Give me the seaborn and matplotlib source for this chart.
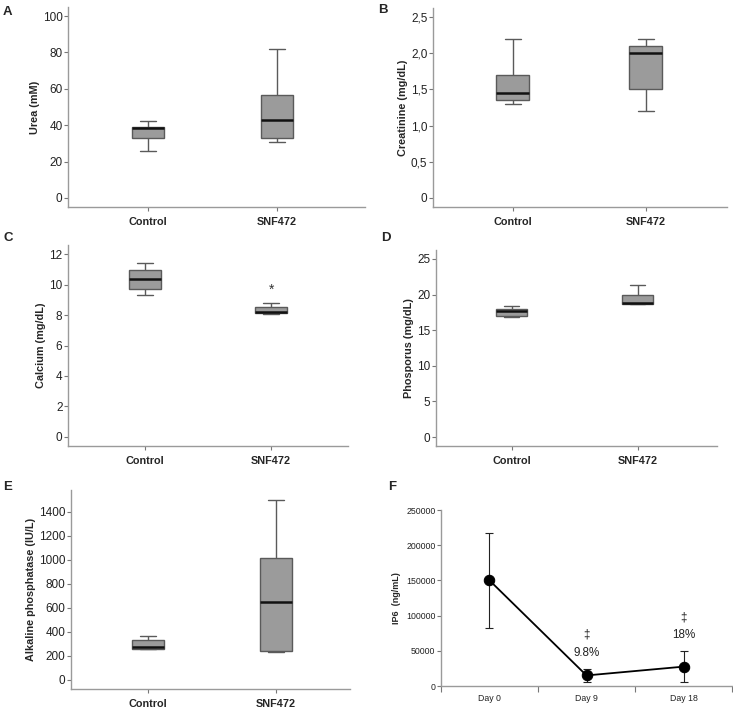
import numpy as np
import pandas as pd
import matplotlib
matplotlib.use("Agg")
import matplotlib.pyplot as plt
from matplotlib import font_manager
import seaborn as sns

# ---------------- data (five-number summaries) -------------
groups = ["Control", "SNF472"]

urea_control = [25.9, 33.2, 38.3, 38.9, 42.4]
urea_snf = [31.0, 32.9, 42.6, 56.7, 81.7]

creat_control = [1.30, 1.35, 1.45, 1.70, 2.20]
creat_snf = [1.20, 1.50, 2.00, 2.10, 2.20]

calc_control = [9.30, 9.70, 10.36, 10.95, 11.41]
calc_snf = [8.10, 8.15, 8.20, 8.50, 8.82]

phos_control = [16.9, 17.0, 17.7, 18.0, 18.4]
phos_snf = [18.7, 18.7, 18.75, 20.0, 21.3]

alp_control = [255, 258, 278, 333, 368]
alp_snf = [230, 241, 649, 1017, 1494]

days = ["Day 0", "Day 9", "Day 18"]
ip6_mean = [150000, 15000, 27500]
ip6_err = [68000, 9500, 22000]
ip6_pct = ["", "9.8%", "18%"]
ip6_sig = ["", "\u2021", "\u2021"]

# ---------------- style -------------
sns.set_theme(style="white")
avail = {f.name for f in font_manager.fontManager.ttflist}
narrow = "Liberation Sans Narrow" if "Liberation Sans Narrow" in avail else "Liberation Sans"
plt.rcParams["font.family"] = ["Liberation Sans", "DejaVu Sans"]

W, H = 733, 708
fig = plt.figure(figsize=(W / 100, H / 100), dpi=100)


def rect(l, t, r, b):
    return [l / W, 1 - b / H, (r - l) / W, (b - t) / H]


spine_col = "#9a9a9a"


def box_panel(r, ctrl, snf, ylabel, yticks, ticklabels, ylim, xlim):
    ax = fig.add_axes(rect(*r))
    df = pd.DataFrame({
        "group": [groups[0]] * len(ctrl) + [groups[1]] * len(snf),
        "value": list(ctrl) + list(snf),
    })
    sns.boxplot(data=df, x="group", y="value", ax=ax, order=groups,
                color="#9b9b9b", saturation=1, width=0.25, whis=(0, 100),
                linecolor="#5a5a5a", linewidth=1.0,
                medianprops={"color": "#111111", "linewidth": 1.8},
                showfliers=False)
    ax.set_ylim(*ylim)
    ax.set_xlim(*xlim)
    ax.set_yticks(yticks)
    ax.set_yticklabels(ticklabels, fontfamily=narrow, fontsize=8.5, color="#222222")
    ax.set_xlabel("")
    ax.set_ylabel(ylabel, fontsize=7.8, fontweight="bold", labelpad=2)
    for lab in ax.get_xticklabels():
        lab.set_fontweight("bold")
        lab.set_fontsize(7.8)
    for s in ["top", "right"]:
        ax.spines[s].set_visible(False)
    for s in ["left", "bottom"]:
        ax.spines[s].set_color(spine_col)
        ax.spines[s].set_linewidth(1.0)
    ax.tick_params(axis="y", length=3, width=0.8, color="#777777", left=True, pad=1)
    ax.tick_params(axis="x", length=3, width=0.8, color="#777777", bottom=True, pad=4)
    return ax


def yl(lo, hi):
    span = hi - lo
    return (lo - 0.05 * span, hi + 0.05 * span)


axA = box_panel((68, 7, 365, 207), urea_control, urea_snf, "Urea (mM)",
                [0, 20, 40, 60, 80, 100], ["0", "20", "40", "60", "80", "100"],
                yl(0, 100), (-0.62, 1.68))
axB = box_panel((433, 8, 727, 207), creat_control, creat_snf, "Creatinine (mg/dL)",
                [0, 0.5, 1.0, 1.5, 2.0, 2.5], ["0", "0,5", "1,0", "1,5", "2,0", "2,5"],
                yl(0, 2.5), (-0.60, 1.61))
axC = box_panel((68, 245, 348, 446), calc_control, calc_snf, "Calcium (mg/dL)",
                [0, 2, 4, 6, 8, 10, 12], ["0", "2", "4", "6", "8", "10", "12"],
                yl(0, 12), (-0.61, 1.61))
axC.text(1, 9.65, "*", ha="center", va="center", fontsize=10, color="#333333")
axD = box_panel((436, 250, 717, 446), phos_control, phos_snf, "Phosporus (mg/dL)",
                [0, 5, 10, 15, 20, 25], ["0", "5", "10", "15", "20", "25"],
                yl(0, 25), (-0.60, 1.63))
axE = box_panel((71, 490, 350, 689), alp_control, alp_snf, "Alkaline phosphatase (IU/L)",
                [0, 200, 400, 600, 800, 1000, 1200, 1400],
                ["0", "200", "400", "600", "800", "1000", "1200", "1400"],
                (-75, 1580), (-0.60, 1.58))

# ---------------- panel F -------------
axF = fig.add_axes(rect(441, 510, 732, 686))
xpos = np.arange(len(days)) + 0.5
fdf = pd.DataFrame({"x": xpos, "y": ip6_mean})
axF.errorbar(xpos, ip6_mean, yerr=ip6_err, fmt="none", ecolor="#222222",
             elinewidth=0.8, capsize=3, capthick=0.8, zorder=2)
sns.lineplot(data=fdf, x="x", y="y", ax=axF, color="black", linewidth=1.3,
             marker="o", markersize=7.5, markeredgecolor="black", zorder=3)
axF.set_xlim(0, 3)
axF.set_ylim(0, 250000)
axF.set_yticks(np.arange(0, 250001, 50000))
axF.set_yticklabels([str(v) for v in range(0, 250001, 50000)], fontsize=6.3, color="#222222")
axF.set_xticks([0, 1, 2, 3])
axF.set_xticklabels([])
axF.set_xticks(xpos, minor=True)
axF.set_xticklabels(days, minor=True, fontsize=6.3, color="#222222")
axF.tick_params(axis="x", which="major", length=4, width=0.8, color="#777777", direction="out", bottom=True)
axF.tick_params(axis="x", which="minor", length=0, pad=6)
axF.tick_params(axis="y", length=3, width=0.8, color="#777777", left=True, pad=1)
axF.set_xlabel("")
axF.set_ylabel("IP6  (ng/mL)", fontsize=6.5, fontweight="bold", labelpad=4)
for s in ["top", "right"]:
    axF.spines[s].set_visible(False)
for s in ["left", "bottom"]:
    axF.spines[s].set_color(spine_col)
    axF.spines[s].set_linewidth(1.0)
for i in range(1, 3):
    top = ip6_mean[i] + ip6_err[i]
    axF.annotate(ip6_pct[i], (xpos[i], top), xytext=(0, 7), textcoords="offset points",
                 ha="center", va="bottom", fontsize=8.4, color="#222222")
    axF.annotate(ip6_sig[i], (xpos[i], top), xytext=(0, 20), textcoords="offset points",
                 ha="center", va="bottom", fontsize=8.5, color="#222222")

# ---------------- panel letters -------------
for letter, (px, py) in zip("ABCDEF", [(3, 6), (378, 4), (3, 232), (381, 232), (3, 481), (388, 481)]):
    fig.text(px / W, 1 - py / H, letter, fontsize=9.5, fontweight="bold", va="top", ha="left")

fig.savefig("out.png", dpi=100)
